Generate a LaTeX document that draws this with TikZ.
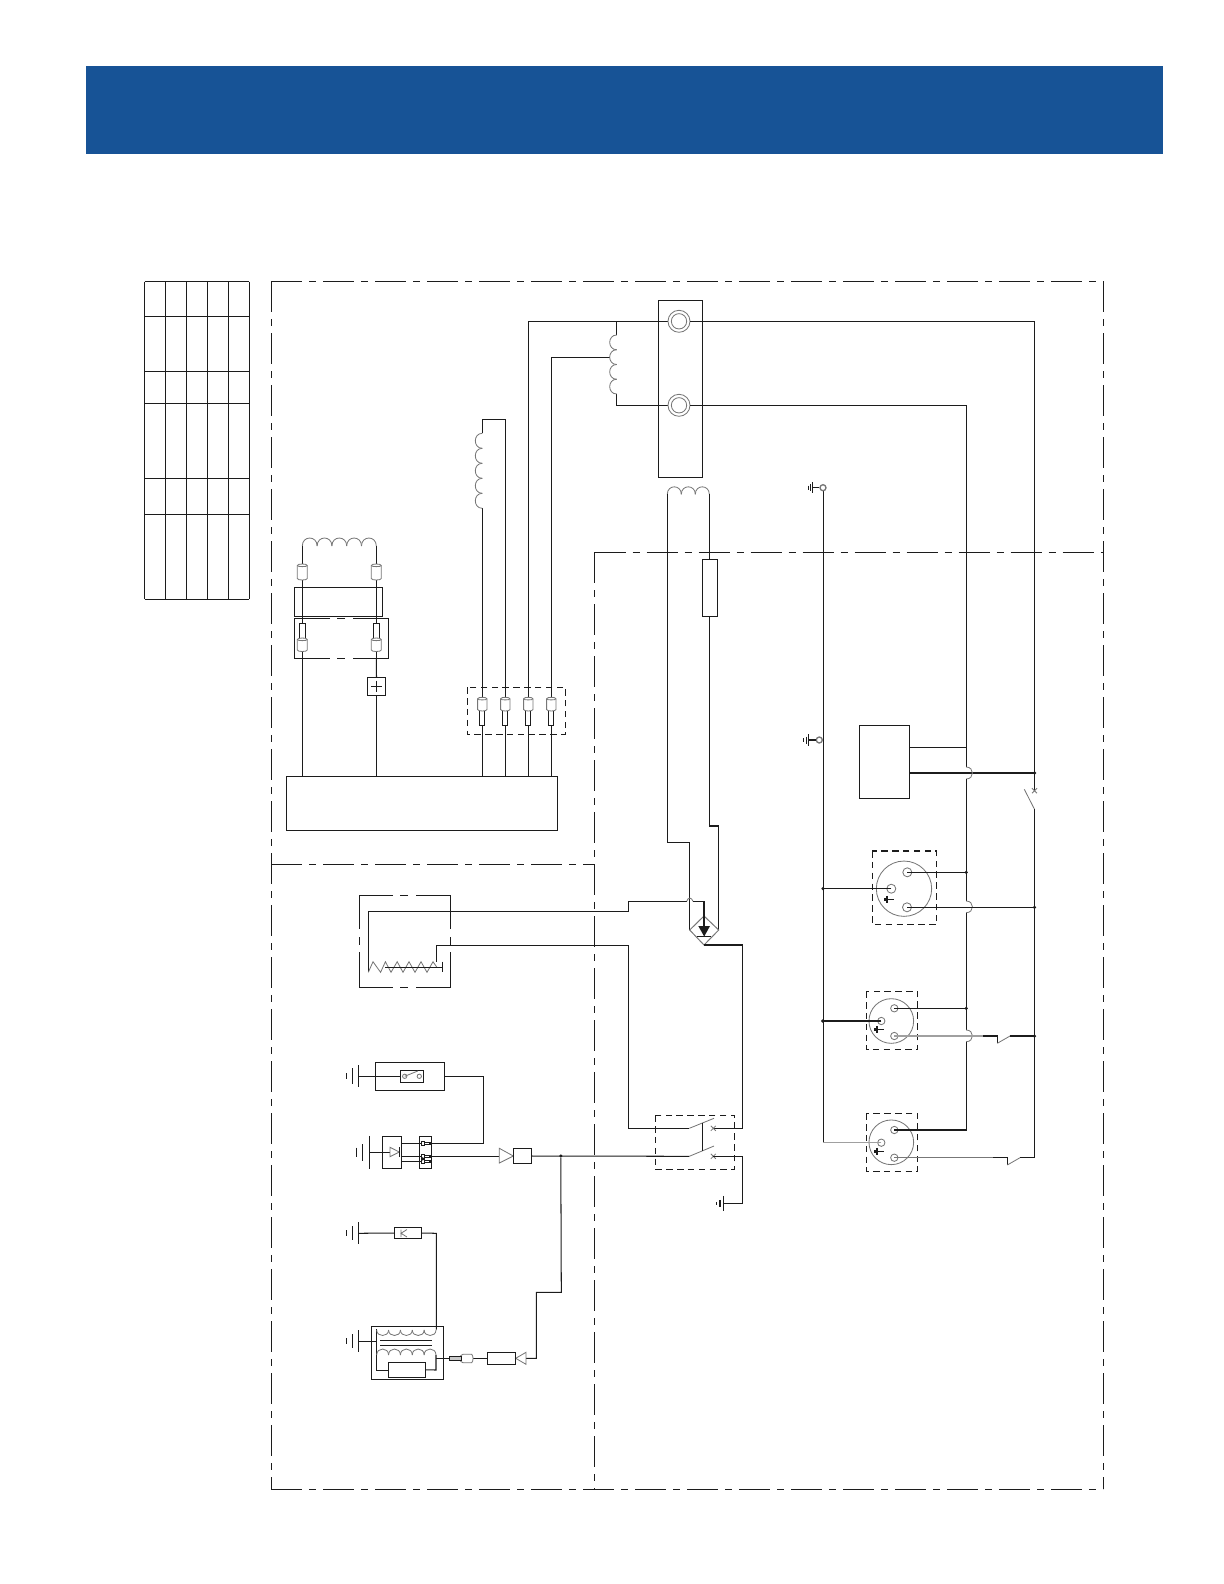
\documentclass[tikz,border=0pt]{standalone}
\usetikzlibrary{calc}
\definecolor{hdr}{HTML}{175396}
\definecolor{ink}{HTML}{1C1C1C}
\definecolor{gry}{HTML}{777777}
\tikzset{
  wire/.style={draw=ink,line width=0.62pt,line join=miter},
  thin wire/.style={draw=gry,line width=0.5pt},
  lgrey/.style={draw=gry!70,line width=0.9pt},
  frameln/.style={draw=ink,line width=0.62pt,dash pattern=on 18.6pt off 4.2pt on 4.2pt off 4.2pt},
  dbox/.style={draw=ink,line width=0.62pt,dash pattern=on 3.9pt off 2.6pt},
  coil/.style={draw=gry,line width=0.5pt},
  dotn/.style={circle,fill=ink,inner sep=0pt,minimum size=2.1pt},
  pinc/.style={circle,draw=gry,line width=0.5pt,fill=white,inner sep=0pt},
  boxst/.style={rectangle,draw=ink,line width=0.62pt,inner sep=0pt,outer sep=0pt},
}
% rectangle as a named node: name x1 y1 x2 y2
\newcommand\bx[5]{\node[boxst,minimum width={(#4-#2)*0.6pt},minimum height={(#5-#3)*0.6pt}] (#1) at ({(#2+#4)/2},{(#3+#5)/2}) {};}
% horizontal coil: x1 x2 y bulge n
\newcommand\hcoil[5]{\pgfmathsetmacro\cw{(#2-#1)/#5}
  \foreach \i in {1,...,#5}{\draw[coil] ({#1+(\i-1)*\cw},#3) .. controls ({#1+(\i-1)*\cw},{#3+1.33*(#4)}) and ({#1+\i*\cw},{#3+1.33*(#4)}) .. ({#1+\i*\cw},#3);}}
% vertical coil: y1 y2 x bulge n
\newcommand\vcoil[5]{\pgfmathsetmacro\cw{(#2-#1)/#5}
  \foreach \i in {1,...,#5}{\draw[coil] ({#3},{#1+(\i-1)*\cw}) .. controls ({#3+1.33*(#4)},{#1+(\i-1)*\cw}) and ({#3+1.33*(#4)},{#1+\i*\cw}) .. ({#3},{#1+\i*\cw});}}
% vertical cylinder terminal, wide part: x y1 y2 halfw
\newcommand\cyl[4]{\draw[thin wire,fill=white] ({#1-#4},{#2+1.5}) -- ({#1-#4},{#3-1.5}) .. controls ({#1-#4},{#3+.5}) and ({#1+#4},{#3+.5}) .. ({#1+#4},{#3-1.5}) -- ({#1+#4},{#2+1.5}) .. controls ({#1+#4},{#2-.5}) and ({#1-#4},{#2-.5}) .. ({#1-#4},{#2+1.5}) -- cycle;
 \draw[thin wire] ({#1-#4},{#2+1.5}) .. controls ({#1-#4},{#2+3}) and ({#1+#4},{#2+3}) .. ({#1+#4},{#2+1.5});}
% plug: narrow rectangle
\newcommand\plug[4]{\draw[draw=ink,line width=0.5pt,fill=white] ({#1-#4},#2) rectangle ({#1+#4},#3);}
% ground: x of main bar, step, y, half-heights
\newcommand\gnd[6]{\draw[wire] (#1,{#3-#4}) -- (#1,{#3+#4});
 \draw[wire] ({#1-#2},{#3-#5}) -- ({#1-#2},{#3+#5});
 \draw[wire] ({#1-2*#2},{#3-#6}) -- ({#1-2*#2},{#3+#6});}
% small x contact
\newcommand\xmk[2]{\draw[thin wire] ({#1-2.5},{#2-2.5}) -- ({#1+2.5},{#2+2.5}) ({#1-2.5},{#2+2.5}) -- ({#1+2.5},{#2-2.5});}
% earth sign in connector
\newcommand\esign[2]{\draw[wire] (#1,{#2-3.5}) -- (#1,{#2+3.5}) (#1,#2) -- ({#1+7},#2);\draw[wire] ({#1-2},{#2-1.5}) -- ({#1-2},{#2+1.5});}
\begin{document}
\begin{tikzpicture}[x=0.6pt,y=-0.6pt]
\useasboundingbox (0,0) rectangle (1224,1584);
% header band
\fill[hdr] (86,66) rectangle (1163,154);
% table
\foreach \yy in {281.5,316.3,371.3,403.3,478.3,514.3,599.3}{\draw[wire] (144.7,\yy) -- (249.3,\yy);}
\foreach \xx in {144.7,165.3,186.3,207.3,228.3,249.3}{\draw[wire] (\xx,281.5) -- (\xx,599.3);}
% zone frames
\coordinate (TL) at (271.3,281.3); \coordinate (TR) at (1103.3,281.3);
\coordinate (BL) at (271.3,1489); \coordinate (BR) at (1103.3,1489);
\coordinate (IT) at (594.5,552.3); \coordinate (IR) at (1103.3,552.3); \coordinate (IB) at (594.5,1489);
\coordinate (ML) at (271.3,864.5); \coordinate (MR) at (594.5,864.5);
\draw[frameln] (TL) -- (TR);
\draw[frameln] (TL) -- (BL);
\draw[frameln] (TR) -- (BR);
\draw[frameln] (BL) -- (BR);
\draw[frameln] (IT) -- (IR);
\draw[frameln] (IT) -- (IB);
\draw[frameln] (ML) -- (MR);

% ---- generator block top-left
\bx{bigbox}{286.3}{776.3}{557.3}{830.3}
\bx{rA}{294.3}{587.7}{382.3}{616.3}
\draw[wire] (330,618.3) -- (294.3,618.3) -- (294.3,658.3) -- (330,658.3) (337,658.3) -- (345,658.3) (353,658.3) -- (388.3,658.3) -- (388.3,618.3) -- (353,618.3) (345,618.3) -- (337,618.3);
\draw[wire] (302.3,546) -- (302.3,776.3);
\draw[wire] (376.3,546) -- (376.3,668);
\draw[wire] (376.3,695.3) -- (376.3,776.3);
\hcoil{302.3}{376.3}{546}{-8}{5}
\cyl{302.3}{564}{580}{5}
\cyl{376.3}{564}{580}{5}
\plug{302.3}{623.5}{640}{3}
\plug{376.3}{623.5}{640}{3}
\cyl{302.3}{638}{651.5}{5}
\cyl{376.3}{638}{651.5}{5}
\bx{plusb}{367.3}{677.3}{385.7}{695.3}
\draw[wire] (plusb.north) -- (376.3,658);
\draw[wire] (376.3,680.5) -- (376.3,692) (371,686.3) -- (382,686.3);

% ---- four wires to the block
\draw[wire] (482.3,776.3) -- (482.3,508.3);
\draw[wire] (482.3,433.3) -- (482.3,419.3) -- (505.3,419.3) -- (505.3,776.3);
\vcoil{433.3}{508.3}{482.3}{-7}{5}
\draw[wire] (528.3,776.3) -- (528.3,321.3) -- (668,321.3);
\draw[wire] (551.3,776.3) -- (551.3,357.3) -- (609.5,357.3);
\draw[dbox] (467.3,687.3) rectangle (565.7,734.3);
\foreach \xx in {482.3,505.3,528.3,551.3}{\plug{\xx}{709}{725.3}{2.6}\cyl{\xx}{697.3}{711}{4.7}}

% ---- terminal block
\bx{tblock}{658.3}{300.3}{702.7}{477.3}
\draw[wire] (616.7,321.3) -- (616.7,335);
\draw[wire] (616.7,394) -- (616.7,405.3) -- (668,405.3);
\vcoil{335}{394}{616.7}{-7}{4}
\foreach \nm/\yy in {tA/321.3,tB/405.3}{
  \node[pinc,minimum size=13.2pt] (\nm) at (679,\yy) {};
  \node[pinc,minimum size=9.2pt] at (679,\yy) {};
}
\draw[wire] (tA.east) -- (1034.5,321.3) -- (1034.5,790.7);
\draw[wire] (tB.east) -- (966.2,405.3) -- (966.2,767);
% lower coil
\hcoil{667.3}{709.3}{494.3}{-7.5}{3}
\draw[wire] (667.3,494.3) -- (667.3,842.3) -- (689.7,842.3) -- (689.7,930);
\draw[wire] (709.3,494.3) -- (709.3,559.3);
\bx{resb}{702.3}{559.3}{717.3}{616.3}
\draw[wire] (709.3,616.3) -- (709.3,826) -- (718.7,826) -- (718.7,930);
% bridge
\draw[draw=gry,line width=0.6pt] (704,916) -- (718.7,930) -- (704,945) -- (689.7,930) -- cycle;
\fill[ink] (698.3,926) -- (710,926) -- (704.2,936.5) -- cycle;
\draw[wire] (697.3,936.8) -- (710.7,936.8);
\draw[wire] (704,945) -- (742.3,945) -- (742.3,1128.3) -- (713.3,1128.3);
\draw[wire] (368.3,972) -- (368.3,911.3) -- (628.3,911.3) -- (628.3,901.3) -- (686.7,901.3);
\draw[thin wire] (686.7,901.3) .. controls (688,897) and (691.5,897) .. (693,901.3);
\draw[wire] (693,901.3) -- (704,901.3) -- (704,926);
\draw[wire] (436.7,961.7) -- (436.7,945.7) -- (628.3,945.7) -- (628.3,1128.3) -- (689.3,1128.3);

% ---- heater element box
\draw[wire] (393,895.3) -- (359.3,895.3) -- (359.3,929) (359.3,937) -- (359.3,945) (359.3,952) -- (359.3,987.3) -- (393,987.3) (400,987.3) -- (408,987.3) (416,987.3) -- (450.3,987.3) -- (450.3,952) (450.3,945) -- (450.3,937) (450.3,929) -- (450.3,895.3) -- (416,895.3) (408,895.3) -- (400,895.3);
\draw[thin wire] (368.3,972.3) -- (373,961.7) -- (380.6,972.3) -- (385.4,961.7) -- (391,972.3) -- (397.2,961.7) -- (403,972.3) -- (409,961.7) -- (415,972.3) -- (421,961.7) -- (427,972.3) -- (433,961.7) -- (436.7,967);
\draw[draw=ink,line width=0.5pt] (385,967) -- (442.3,967) (442.3,961.7) -- (442.3,972.3);

% ---- left lower devices
\gnd{358.7}{6}{1076.3}{11}{8}{3}
\bx{oilb}{375.3}{1062.3}{444.7}{1090.3}
\bx{oili}{400.3}{1070.3}{423.3}{1082.3}
\draw[wire] (358.7,1076.3) -- (oili.west);
\draw[wire] (oilb.east) -- (483.3,1076.3) -- (483.3,1143.3) -- (431.7,1143.3);
\node[pinc,minimum size=2.6pt] at (404.7,1076.3) {};
\node[pinc,minimum size=2.6pt] at (419.3,1076.3) {};
\draw[thin wire] (404.7,1076.3) -- (417.7,1071);

\gnd{369.3}{6.6}{1152.3}{16.5}{8.3}{4.8}
\bx{regb}{382.3}{1136.3}{401.7}{1168.3}
\draw[wire] (369.3,1152.3) -- (390,1152.3);
\draw[thin wire] (390,1147.3) -- (399.3,1152) -- (390,1156.7) -- cycle;
\draw[wire] (399.3,1147.3) -- (399.3,1156.7);
\bx{conb}{419.3}{1136.3}{431.7}{1168.3}
\foreach \yy in {1143.3,1156.3,1161.3}{
  \draw[wire] (401.7,\yy) -- (421.7,\yy);
  \draw[wire,fill=white] (421.7,{\yy-2}) rectangle (424.7,{\yy+2});
  \draw[wire,fill=white] (424.7,{\yy-1.2}) rectangle (430,{\yy+1.2});
}
\node[dotn] at (422.8,1158.8) {};
\draw[wire] (430,1143.3) -- (431.7,1143.3);
\draw[wire] (430,1156.3) -- (499.3,1156.3);
\draw[thin wire] (499.3,1148.3) -- (513.3,1156) -- (499.3,1163) -- cycle;
\bx{ampb}{513.3}{1148.3}{531.7}{1163.7}
\draw[wire] (ampb.east) -- (689.3,1156.3);
\node[dotn] (jn) at (560.8,1156) {};
\draw[wire] (jn) -- (561.3,1292.3) -- (536.3,1292.3) -- (536.3,1358.3) -- (526,1358.3);
\draw[thin wire] (526,1352.3) -- (515.7,1358.3) -- (526,1364.3) -- cycle;
\bx{capb}{487.3}{1352.3}{515.7}{1364.3}
\draw[wire] (capb.west) -- (471.7,1358.3);
\draw[thin wire,fill=white] (471.7,1354.3) -- (463,1354.3) .. controls (459,1354.3) and (459,1362.7) .. (463,1362.7) -- (471.7,1362.7) .. controls (473.5,1361) and (473.5,1356) .. (471.7,1354.3) -- cycle;
\draw[wire,fill=gry!40] (449.3,1356) rectangle (461.7,1360.7);
\draw[wire] (449.3,1358.3) -- (436,1358.3);

\gnd{358.3}{6}{1233.3}{11}{7}{3}
\bx{kbox}{394.3}{1227.3}{421.7}{1238.7}
\draw[wire] (358.3,1233.3) -- (kbox.west);
\draw[thin wire] (401,1229.5) -- (401,1237) (407,1229.5) -- (401,1233.3) -- (407,1237);
\draw[wire] (kbox.east) -- (436.3,1233.3) -- (436.3,1329.5);

\bx{genb}{371.3}{1326.3}{443.7}{1379.3}
\gnd{358.3}{6}{1341.3}{11}{7}{3}
\draw[wire] (358.3,1341.3) -- (376.7,1341.3);
\draw[wire] (376.7,1329.3) -- (376.7,1370) -- (388.3,1370);
\bx{genr}{388.3}{1362.3}{425.7}{1377.3}
\draw[wire] (genr.east) -- (436,1370) -- (436,1355);
\hcoil{376.7}{436}{1330}{5.5}{5}
\draw[wire] (380,1340.3) -- (432.3,1340.3) (380,1345) -- (432.3,1345);
\hcoil{376.7}{436}{1355}{-6}{5}

% ---- main switch
\draw[dbox] (655.3,1115.3) rectangle (734.3,1169.3);
\draw[thin wire] (689.3,1128.3) -- (714,1118.3);
\draw[thin wire] (689.3,1156.3) -- (714,1146);
\draw[wire] (702.3,1122.7) -- (702.3,1150.5);
\xmk{713.3}{1128.3}
\xmk{713.3}{1156.3}
\draw[wire] (713.3,1156.3) -- (742.3,1156.3) -- (742.3,1203.3) -- (723.3,1203.3);
\gnd{723.3}{3.3}{1203.3}{7.5}{3.5}{1.5}

% ---- right side
\draw[wire] (823.3,491) -- (823.3,1142.7);
\node[pinc,fill=white,line width=0.8pt,minimum size=3.6pt] (gA) at (823,487.7) {};
\draw[wire] (gA.west) -- (812.7,487.7);
\gnd{812.7}{2}{487.7}{5.5}{3.5}{2}
\node[pinc,fill=white,line width=0.8pt,minimum size=3.6pt] (gB) at (819.3,740) {};
\draw[wire] (gB.west) -- (808.3,740);
\gnd{808.3}{2.2}{740}{5.7}{3.5}{2}
\bx{ctrl}{859.3}{725.3}{909.3}{798.3}
\draw[wire] (909.3,747.3) -- (966.2,747.3);
\draw[wire] (909.3,773) -- (1034.5,773);
\draw[thin wire] (966.2,767) .. controls (974.5,767) and (974.5,779) .. (966.2,779);
\node[dotn] at (1034.5,773) {};
\xmk{1034.5}{790.7}
\draw[thin wire] (1034.5,809.3) -- (1024.3,789.3);
\draw[wire] (1034.5,809.3) -- (1034.5,1157.7);
\draw[wire] (966.2,779) -- (966.2,901);
\draw[thin wire] (966.2,901) .. controls (974.5,901) and (974.5,912.7) .. (966.2,912.7);
\draw[wire] (966.2,912.7) -- (966.2,1030);
\draw[thin wire] (966.2,1030) .. controls (974.5,1030) and (974.5,1041.7) .. (966.2,1041.7);
\draw[wire] (966.2,1041.7) -- (966.2,1130) -- (894.3,1130);

% socket 1
\draw[dbox] (872.3,851) rectangle (936.7,924.3);
\node[pinc,fill=none,minimum size=33.2pt] at (904,888.7) {};
\node[pinc,minimum size=5.4pt] (a1) at (907.3,872.3) {};
\node[pinc,minimum size=5.4pt] (a2) at (891.3,888.7) {};
\node[pinc,minimum size=5.4pt] (a3) at (907,907.3) {};
\draw[wire] (a1.center) -- (966.2,872.3);
\draw[wire] (a2.center) -- (823.3,888.7);
\draw[wire] (a3.center) -- (1034.5,907.3);
\node[dotn] at (966.2,872.3) {};
\node[dotn] at (823,888.7) {};
\node[dotn] at (1034.5,907.3) {};
\esign{887}{899.3}

% socket 2
\draw[dbox] (866.3,991.3) rectangle (917.7,1049.7);
\node[pinc,fill=none,minimum size=26.8pt] at (891.3,1021) {};
\node[pinc,minimum size=4.4pt] (b1) at (894.3,1008.3) {};
\node[pinc,minimum size=4.4pt] (b2) at (881.3,1021) {};
\node[pinc,minimum size=4.4pt] (b3) at (894.3,1036) {};
\draw[wire] (b1.center) -- (966.2,1008.3);
\draw[wire] (b2.center) -- (822.7,1021);
\draw[lgrey] (b3.center) -- (983.3,1036);
\draw[wire] (983.3,1036) -- (997.3,1036) -- (997.3,1043.3);
\draw[thin wire] (997.3,1043.3) -- (1010,1036);
\draw[wire] (1010,1036) -- (1034.5,1036);
\node[dotn] at (966.2,1008.3) {};
\node[dotn] at (822.7,1021) {};
\node[dotn] at (1034.5,1036) {};
\esign{877}{1029.7}

% socket 3
\draw[dbox] (866.3,1113.3) rectangle (917.7,1171.6);
\node[pinc,fill=none,minimum size=26.8pt] at (891.3,1142.3) {};
\node[pinc,minimum size=4.4pt] (c1) at (894.3,1130) {};
\node[pinc,minimum size=4.4pt] (c2) at (881.3,1142.7) {};
\node[pinc,minimum size=4.4pt] (c3) at (894.3,1157.7) {};
\draw[wire] (c1.center) -- (966.2,1130);
\draw[lgrey] (c2.center) -- (823.3,1142.7);
\draw[draw=gry,line width=0.7pt] (c3.center) -- (993.3,1157.7);
\draw[wire] (993.3,1157.7) -- (1007.3,1157.7) -- (1007.3,1165);
\draw[thin wire] (1007.3,1165) -- (1020,1157.7);
\draw[wire] (1020,1157.7) -- (1034.5,1157.7);
\esign{877}{1151.3}
\end{tikzpicture}
\end{document}
